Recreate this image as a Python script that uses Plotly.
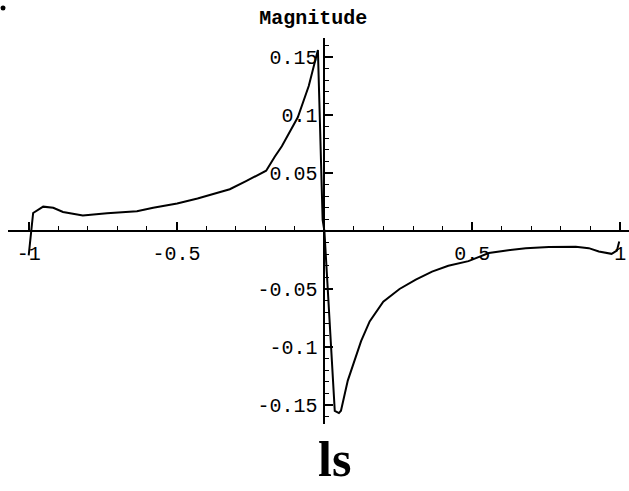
import numpy as np
import plotly.graph_objects as go

# Sampled response curve
freq = [-1.0, -0.985, -0.951, -0.917, -0.884, -0.817, -0.735, -0.634, -0.579,
        -0.498, -0.429, -0.389, -0.320, -0.265, -0.197, -0.168, -0.144, -0.090,
        -0.053, -0.022, -0.006, 0.0, 0.035, 0.049, 0.056, 0.079, 0.124, 0.153,
        0.199, 0.254, 0.309, 0.364, 0.419, 0.487, 0.556, 0.610, 0.681, 0.759,
        0.850, 0.894, 0.928, 0.971, 0.989, 0.997]
magnitude = [-0.021, 0.0155, 0.021, 0.020, 0.0164, 0.0133, 0.0153, 0.017, 0.020,
             0.0237, 0.028, 0.031, 0.036, 0.043, 0.052, 0.064, 0.073, 0.098,
             0.125, 0.156, 0.0095, 0.0, -0.155, -0.157, -0.155, -0.129, -0.095, -0.078,
             -0.061, -0.050, -0.042, -0.035, -0.030, -0.026, -0.019, -0.017, -0.0148, -0.0137,
             -0.0135, -0.0148, -0.0176, -0.0197, -0.017, -0.009]

x_ticks = [-1, -0.5, 0.5, 1]
x_tick_text = ["-1", "-0.5", "0.5", "1"]
y_ticks = [-0.15, -0.1, -0.05, 0.05, 0.1, 0.15]
y_tick_text = ["-0.15", "-0.1", "-0.05", "0.05", "0.1", "0.15"]

X_RANGE = [-1.07, 1.03]
Y_RANGE = [-0.1664, 0.1664]

mono = "Liberation Mono, Courier New, monospace"
tick_font = dict(family=mono, size=20, color="black")

fig = go.Figure()
fig.add_trace(go.Scatter(
    x=freq, y=magnitude, mode="lines",
    line=dict(color="black", width=2),
    showlegend=False, hoverinfo="skip",
))

# axes cross at the origin
x_zero_frac = (0 - X_RANGE[0]) / (X_RANGE[1] - X_RANGE[0])
y_zero_frac = (0 - Y_RANGE[0]) / (Y_RANGE[1] - Y_RANGE[0])

fig.update_layout(
    width=629, height=491,
    margin=dict(l=8, r=0, t=38, b=67),
    paper_bgcolor="white", plot_bgcolor="white",
    title=dict(text="Magnitude", x=0.498, y=0.965, xanchor="center", yanchor="middle",
               font=dict(family=mono, size=20, color="black", weight="bold")),
    xaxis=dict(
        range=X_RANGE, anchor="free", position=y_zero_frac,
        showline=True, linecolor="black", linewidth=2,
        showgrid=False, zeroline=False,
        tickmode="array", tickvals=x_ticks, ticktext=x_tick_text,
        ticks="inside", ticklen=8, tickwidth=1.5, tickcolor="black",
        tickfont=tick_font, ticklabelstandoff=4,
        minor=dict(tickmode="array",
                   tickvals=[round(v, 2) for v in np.arange(-1.0, 1.01, 0.1)],
                   ticks="inside", ticklen=4, tickwidth=1.2, tickcolor="black"),
    ),
    yaxis=dict(
        range=Y_RANGE, anchor="free", position=x_zero_frac,
        showline=True, linecolor="black", linewidth=2,
        showgrid=False, zeroline=False,
        tickmode="array", tickvals=y_ticks, ticktext=y_tick_text,
        ticks="inside", ticklen=8, tickwidth=1.5, tickcolor="black",
        tickfont=tick_font, ticklabelstandoff=2,
        minor=dict(tickmode="array",
                   tickvals=[round(v, 3) for v in np.arange(-0.16, 0.161, 0.01)],
                   ticks="inside", ticklen=4, tickwidth=1.2, tickcolor="black"),
    ),
)

fig.add_annotation(
    text="<b>ls</b>", xref="paper", yref="paper", x=0.526, y=-0.169,
    xanchor="center", yanchor="bottom", showarrow=False,
    font=dict(family="Liberation Serif, Times New Roman, serif", size=50, color="black"),
)

fig.add_shape(type="circle", xref="paper", yref="paper",
              x0=-0.012, x1=-0.004, y0=1.071, y1=1.084,
              fillcolor="black", line=dict(color="black", width=0))

fig.write_html("out.html")
